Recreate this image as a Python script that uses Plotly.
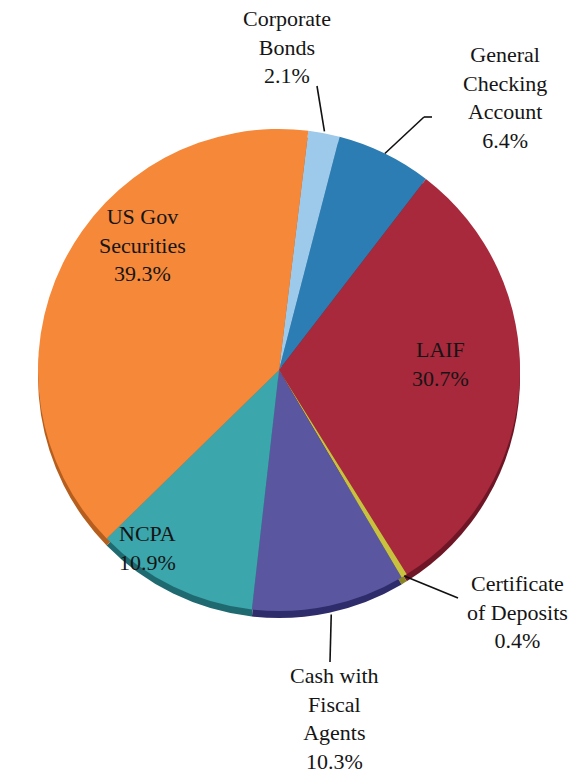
import math
import plotly.graph_objects as go

labels = ["Corporate Bonds", "General Checking Account", "LAIF",
          "Certificate of Deposits", "Cash with Fiscal Agents", "NCPA",
          "US Gov Securities"]
values = [2.1, 6.4, 30.7, 0.4, 10.3, 10.9, 39.3]
colors = ["#9dc9ea", "#2b7db3", "#a8283c", "#c9c23e", "#5b56a0", "#3ba6ab", "#f6883a"]
rim_colors = ["#6f97b5", "#1b5379", "#6e1625", "#8a8424", "#2f2c6b", "#1f6a70", "#b65e1e"]
label_text = ["Corporate<br>Bonds<br>2.1%", "General<br>Checking<br>Account<br>6.4%",
              "LAIF<br>30.7%", "Certificate<br>of Deposits<br>0.4%",
              "Cash with<br>Fiscal<br>Agents<br>10.3%", "NCPA<br>10.9%",
              "US Gov<br>Securities<br>39.3%"]

W, H = 588, 777
CX, CY, R = 279, 370, 241
ROT = 7


def px(x):
    return x / W


def py(y):
    return 1 - y / H


fig = go.Figure()
# darker rim (3D edge) drawn below the face
fig.add_trace(go.Pie(
    labels=labels, values=values, sort=False, direction="clockwise", rotation=ROT,
    marker=dict(colors=rim_colors, line=dict(width=0)), textinfo="none",
    hoverinfo="skip", showlegend=False,
    domain=dict(x=[px(CX - R), px(CX + R)], y=[py(CY + R + 7), py(CY - R + 7)])))
fig.add_trace(go.Pie(
    labels=labels, values=values, sort=False, direction="clockwise", rotation=ROT,
    marker=dict(colors=colors, line=dict(width=0)), textinfo="none",
    showlegend=False,
    domain=dict(x=[px(CX - R), px(CX + R)], y=[py(CY + R), py(CY - R)])))

# mid angles of slices (degrees clockwise from 12 o'clock)
total = sum(values)
mids = []
acc = ROT
for v in values:
    a = v / total * 360
    mids.append(acc + a / 2)
    acc += a


def edge(i, extra=0):
    a = math.radians(mids[i])
    r = R + extra
    return CX + r * math.sin(a), CY - r * math.cos(a)


# label placements (pixel centres) and leader line ends
label_pos = {0: (287, 47), 1: (505, 97), 2: (440, 364), 3: (517, 612),
             4: (334, 718), 5: (117, 548), 6: (142, 245)}
leader_end = {0: [(317, 86)], 1: [(424, 117), (432, 117)], 3: [(458, 598)],
              4: [(330, 662)]}
leader_extra = {0: 2, 1: 0, 3: 0, 4: 9}

annotations = []
for i, (x, y) in label_pos.items():
    annotations.append(dict(
        x=px(x), y=py(y), xref="paper", yref="paper", text=label_text[i],
        showarrow=False, align="left" if i == 5 else "center",
        xanchor="left" if i == 5 else "center", yanchor="middle",
        font=dict(family="Liberation Serif", size=22, color="#151515")))

shapes = []
for i, pts in leader_end.items():
    tx, ty = edge(i, leader_extra[i])
    seq = [(tx, ty)] + pts
    for (x0, y0), (x1, y1) in zip(seq[:-1], seq[1:]):
        shapes.append(dict(type="line", xref="paper", yref="paper",
                           x0=px(x0), y0=py(y0), x1=px(x1), y1=py(y1),
                           line=dict(color="#111111", width=1.6)))

fig.update_layout(width=W, height=H, margin=dict(l=0, r=0, t=0, b=0),
                  paper_bgcolor="white", plot_bgcolor="white",
                  annotations=annotations, shapes=shapes)
fig.write_html("out.html")
